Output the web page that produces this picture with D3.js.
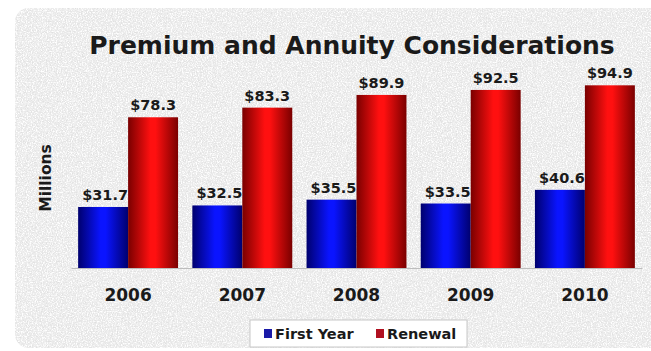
<!DOCTYPE html>
<html>
<head>
<meta charset="utf-8">
<script src="https://cdn.jsdelivr.net/npm/d3@7"></script>
<style>
  html, body { margin: 0; padding: 0; background: #ffffff; }
  svg { display: block; }
  text { font-family: "DejaVu Sans", Verdana, sans-serif; font-weight: bold; fill: #1a1a1a; }
</style>
</head>
<body>
<svg id="chart" width="651" height="351"></svg>
<script>
// Premium and annuity considerations, in millions of dollars
const years = ["2006", "2007", "2008", "2009", "2010"];
const firstYear = [31.7, 32.5, 35.5, 33.5, 40.6];
const renewal = [78.3, 83.3, 89.9, 92.5, 94.9];
const seriesNames = ["First Year", "Renewal"];

const svg = d3.select("#chart");
const defs = svg.append("defs");

// light speckle texture for the panel
function speckle(id, seed, color, alphaScale, alphaOffset) {
  const f = defs.append("filter").attr("id", id)
    .attr("x", 0).attr("y", 0).attr("width", "100%").attr("height", "100%");
  f.append("feTurbulence").attr("type", "fractalNoise")
    .attr("baseFrequency", 0.8).attr("numOctaves", 2).attr("seed", seed).attr("result", "noise");
  f.append("feColorMatrix").attr("in", "noise").attr("type", "matrix")
    .attr("values", `0 0 0 0 ${color}  0 0 0 0 ${color}  0 0 0 0 ${color}  ${alphaScale} 0 0 0 ${alphaOffset}`)
    .attr("result", "speck");
  f.append("feComposite").attr("in", "speck").attr("in2", "SourceGraphic").attr("operator", "in");
}
speckle("grainLight", 3, 1, 3.6, -1.6);
speckle("grainDark", 8, 0.74, 3.2, -1.45);

function barGradient(id, edge, mid) {
  const g = defs.append("linearGradient").attr("id", id)
    .attr("x1", "0%").attr("x2", "100%").attr("y1", "0%").attr("y2", "0%");
  g.append("stop").attr("offset", "0%").attr("stop-color", edge);
  g.append("stop").attr("offset", "45%").attr("stop-color", mid);
  g.append("stop").attr("offset", "55%").attr("stop-color", mid);
  g.append("stop").attr("offset", "100%").attr("stop-color", edge);
}
barGradient("gBlue", "#00006e", "#0a14ff");
barGradient("gRed", "#7a0000", "#ff1010");

// panel
const panel = { x: 15, y: 8, w: 650, h: 340, r: 14 };
["none", "grainDark", "grainLight"].forEach(f => {
  const r = svg.append("rect").attr("x", panel.x).attr("y", panel.y)
    .attr("width", panel.w).attr("height", panel.h).attr("rx", panel.r).attr("fill", "#ebebeb");
  if (f !== "none") r.attr("filter", `url(#${f})`);
});

// title
svg.append("text").attr("x", 352).attr("y", 54).attr("text-anchor", "middle")
  .style("font-size", "25px").text("Premium and Annuity Considerations");

// scales
const x0 = d3.scaleBand().domain(years).range([71, 642]).paddingInner(0.125).paddingOuter(0.0625);
const x1 = d3.scaleBand().domain(seriesNames).range([0, x0.bandwidth()]);
const y = d3.scaleLinear().domain([0, 100]).range([268, 75.5]);

// baseline axis
const axis = svg.append("g").attr("transform", `translate(0,${y(0)})`)
  .call(d3.axisBottom(x0).tickSize(0).tickPadding(21));
axis.select(".domain").attr("stroke", "#bdbdbd");
axis.selectAll("text").style("font-size", "17px").style("font-family", "'DejaVu Sans', sans-serif")
  .style("font-weight", "bold").attr("fill", "#1a1a1a");

// y-axis title
svg.append("text").attr("transform", `translate(51,178) rotate(-90)`)
  .attr("text-anchor", "middle").style("font-size", "15.5px").text("Millions");

const fmt = v => "$" + v.toFixed(1);

function drawSeries(values, name, grad) {
  svg.append("g").selectAll("rect").data(values).join("rect")
    .attr("x", (d, i) => x0(years[i]) + x1(name))
    .attr("width", x1.bandwidth())
    .attr("y", d => y(d))
    .attr("height", d => y(0) - y(d))
    .attr("fill", `url(#${grad})`);
}
function drawLabels(values, name, shift) {
  svg.append("g").selectAll("text").data(values).join("text")
    .attr("x", (d, i) => x0(years[i]) + x1(name) + x1.bandwidth() / 2 + shift)
    .attr("y", d => y(d) - 7)
    .attr("text-anchor", "middle")
    .style("font-size", "14.5px")
    .text(fmt);
}

// first-year labels sit under the neighbouring renewal bar's edge
drawSeries(firstYear, "First Year", "gBlue");
drawLabels(firstYear, "First Year", 2);
drawSeries(renewal, "Renewal", "gRed");
drawLabels(renewal, "Renewal", 0);

// legend
const lg = svg.append("g");
lg.append("rect").attr("x", 250).attr("y", 320).attr("width", 217).attr("height", 27)
  .attr("fill", "#ffffff").attr("stroke", "#c8c8c8");
const items = [
  { name: seriesNames[0], color: "#1a1aa8", x: 264 },
  { name: seriesNames[1], color: "#b01020", x: 376 }
];
items.forEach(it => {
  lg.append("rect").attr("x", it.x).attr("y", 329).attr("width", 8).attr("height", 9).attr("fill", it.color);
  lg.append("text").attr("x", it.x + 11).attr("y", 339).style("font-size", "14.5px").text(it.name);
});
</script>
</body>
</html>
